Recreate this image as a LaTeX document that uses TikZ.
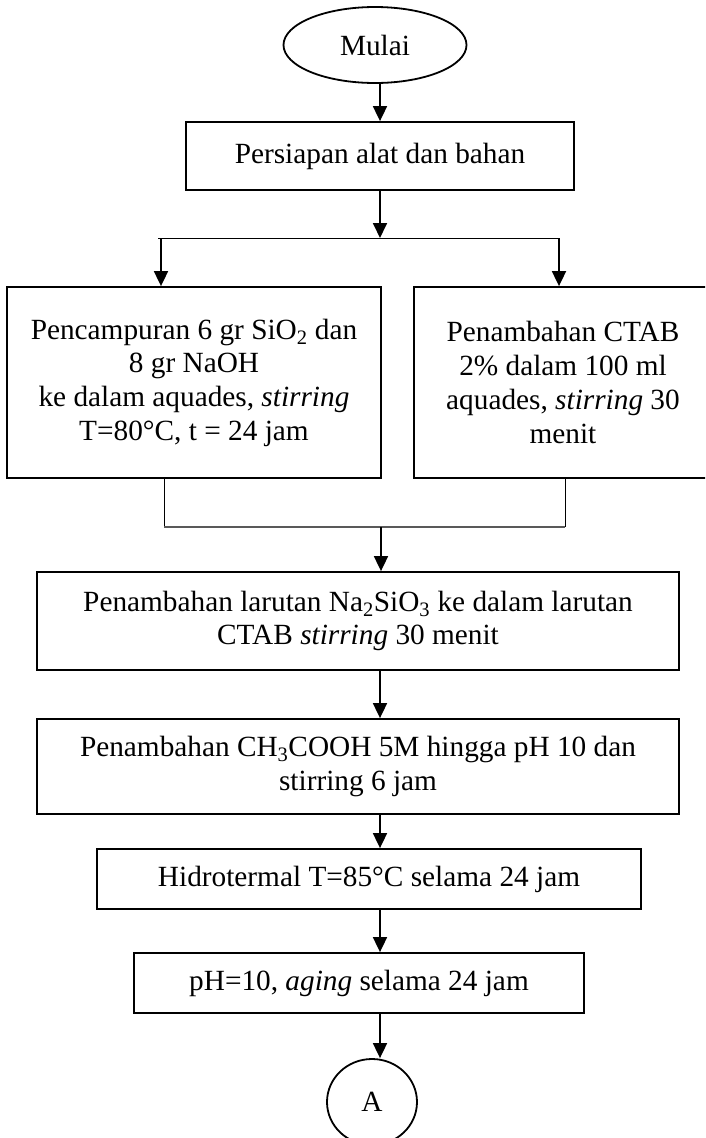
\documentclass[tikz,border=0pt]{standalone}
\usepackage{fontspec}
\setmainfont{Liberation Serif}
\usetikzlibrary{arrows.meta,shapes.geometric}
\newcommand{\flowfs}{\fontsize{29.3}{33.7}\selectfont}
\begin{document}
\begin{tikzpicture}[x=1pt,y=-1pt,
  box/.style={draw, line width=1.8pt, inner sep=0pt, align=center, font=\flowfs},
  arr/.style={line width=1.8pt, -{Triangle[length=15pt,width=14pt]}},
  thinline/.style={line width=1pt},
  greyline/.style={line width=1.6pt, black!65}]
\useasboundingbox (0,0) rectangle (705,1138);
\clip (0,0) rectangle (705,1138);
\node[box, ellipse, minimum width=183pt, minimum height=76pt] (mulai) at (375,45) {Mulai};
\node[box, minimum width=388pt, minimum height=68pt] (prep) at (380,156) {Persiapan alat dan bahan};
\node[box, minimum width=374pt, minimum height=191pt] (mix) at (194,382.5) {Pencampuran 6 gr SiO\textsubscript{2} dan\\8 gr NaOH\\ke dalam aquades, \textit{stirring}\\T=80°C, t = 24 jam};
\node[box, minimum width=298pt, minimum height=191pt] (ctab) at (563,382.5) {Penambahan CTAB\\2\% dalam 100 ml\\aquades, \textit{stirring} 30\\menit};
\node[box, minimum width=642pt, minimum height=98pt] (na) at (358,621) {Penambahan larutan Na\textsubscript{2}SiO\textsubscript{3} ke dalam larutan\\CTAB \textit{stirring} 30 menit};
\node[box, minimum width=642pt, minimum height=95pt] (ch) at (358,766.5) {Penambahan CH\textsubscript{3}COOH 5M hingga pH 10 dan\\stirring 6 jam};
\node[box, minimum width=544pt, minimum height=60pt] (hid) at (369,879) {Hidrotermal T=85°C selama 24 jam};
\node[box, minimum width=450pt, minimum height=60pt] (ph) at (359,983) {pH=10, \textit{aging} selama 24 jam};
\node[box, ellipse, minimum width=90pt, minimum height=86pt] (A) at (372,1102) {A};
% connectors
\coordinate (ax) at (380,0);
\coordinate (split) at (380,238);
\coordinate (sl) at (161,238);
\coordinate (sr) at (559,238);
\coordinate (ml) at (164,527);
\coordinate (mr) at (565,527);
\coordinate (mm) at (381,527);
\draw[arr] (prep.north |- mulai.south) -- (prep.north);
\draw[arr] (prep.south) -- (split);
\draw[thinline] (158,238) -- (sr);
\draw[arr] (sl) -- (sl |- mix.north);
\draw[arr] (sr) -- (sr |- ctab.north);
\draw[thinline] (ml |- mix.south) -- (ml);
\draw[thinline] (mr |- ctab.south) -- (mr);
\draw[greyline] (ml) -- (mr);
\draw[arr] (mm) -- (mm |- na.north);
\draw[arr] (na.south -| ax) -- (ch.north -| ax);
\draw[arr] (ch.south -| ax) -- (hid.north -| ax);
\draw[arr] (hid.south -| ax) -- (ph.north -| ax);
\draw[arr] (ph.south -| ax) -- (A.north -| ax);
\end{tikzpicture}
\end{document}
